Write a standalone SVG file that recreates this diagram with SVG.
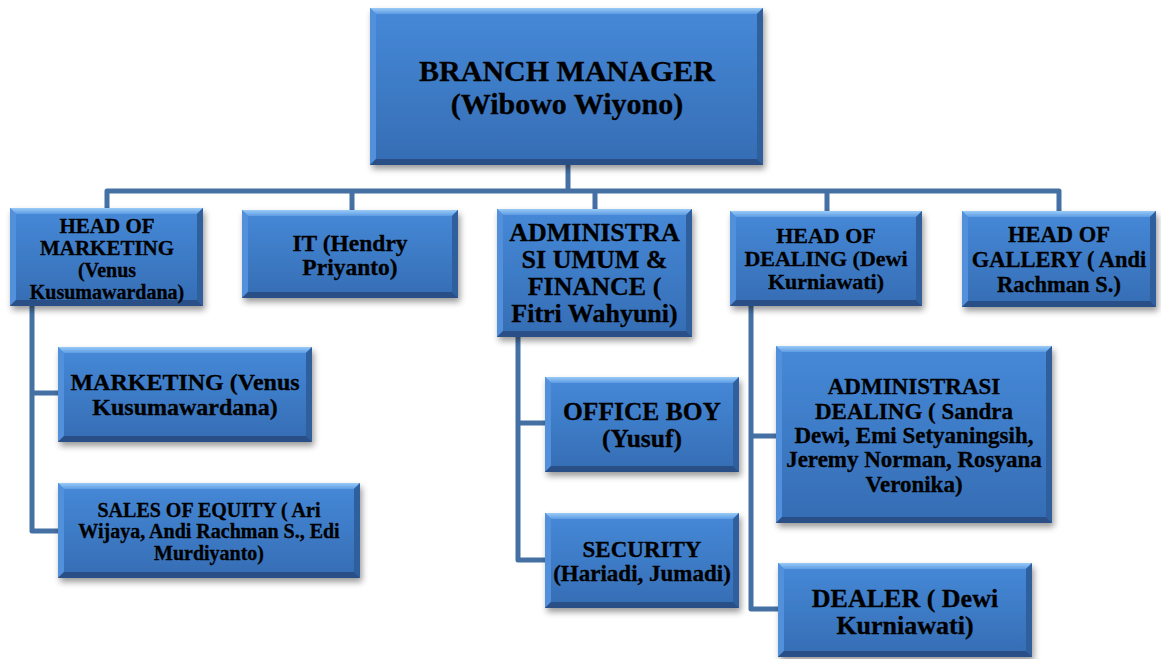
<svg xmlns="http://www.w3.org/2000/svg" width="1161" height="659" viewBox="0 0 1161 659">
<defs>
<linearGradient id="g" x1="0" y1="0" x2="0" y2="1">
<stop offset="0" stop-color="#4689d8"/>
<stop offset="1" stop-color="#356db4"/>
</linearGradient>
<linearGradient id="gt" x1="0" y1="0" x2="0" y2="1">
<stop offset="0" stop-color="#9acbf7"/>
<stop offset="1" stop-color="#5d9be3"/>
</linearGradient>
<filter id="sh" x="-10%" y="-10%" width="130%" height="140%">
<feDropShadow dx="2" dy="4" stdDeviation="3" flood-color="#000" flood-opacity="0.4"/>
</filter>
</defs>
<style>
.box{fill:url(#g);filter:url(#sh)}
.bt{fill:url(#gt)}
.bl{fill:#5290dc}
.br{fill:#2f5f9c}
.bb{fill:#294f86}
.t{font-family:"Liberation Serif","Times New Roman",serif;font-weight:bold;fill:#000;text-anchor:middle;stroke:#000;stroke-width:0.3}
.c{fill:none;stroke:#4470a4;stroke-width:5;stroke-linejoin:round;stroke-linecap:butt}
</style>
<rect width="1161" height="659" fill="#fff"/>
<g id="connectors">
<path class="c" d="M568 165V191"/>
<path class="c" d="M107 209V191H1059V211"/>
<path class="c" d="M352 191V210M595 191V209M827 191V211"/>
<path class="c" d="M32 306V531H58M32 393H58"/>
<path class="c" d="M518 337V560H545M518 423H545"/>
<path class="c" d="M751 306V609H778M751 436H776"/>
</g>
<g id="branch-manager">
<rect class="box" x="370" y="8" width="393" height="157"/>
<polygon class="bt" points="370,8 763,8 757,14 376,14"/>
<polygon class="bl" points="370,8 376,14 376,159 370,165"/>
<polygon class="br" points="763,8 757,14 757,159 763,165"/>
<polygon class="bb" points="370,165 763,165 757,159 376,159"/>
<text class="t" font-size="30" x="567" y="81">BRANCH MANAGER</text>
<text class="t" font-size="30" x="567" y="114">(Wibowo Wiyono)</text>
</g>
<g id="head-marketing">
<rect class="box" x="10" y="208" width="193" height="98"/>
<polygon class="bt" points="10,208 203,208 197,214 16,214"/>
<polygon class="bl" points="10,208 16,214 16,300 10,306"/>
<polygon class="br" points="203,208 197,214 197,300 203,306"/>
<polygon class="bb" points="10,306 203,306 197,300 16,300"/>
<text class="t" font-size="21" x="107" y="233">HEAD OF</text>
<text class="t" font-size="21" x="107" y="255">MARKETING</text>
<text class="t" font-size="20" x="107" y="277">(Venus</text>
<text class="t" font-size="20" x="107" y="299">Kusumawardana)</text>
</g>
<g id="it">
<rect class="box" x="242" y="210" width="216" height="88"/>
<polygon class="bt" points="242,210 458,210 452,216 248,216"/>
<polygon class="bl" points="242,210 248,216 248,292 242,298"/>
<polygon class="br" points="458,210 452,216 452,292 458,298"/>
<polygon class="bb" points="242,298 458,298 452,292 248,292"/>
<text class="t" font-size="23.5" x="350" y="251">IT (Hendry</text>
<text class="t" font-size="23.5" x="350" y="275">Priyanto)</text>
</g>
<g id="admin-finance">
<rect class="box" x="497" y="209" width="195" height="128"/>
<polygon class="bt" points="497,209 692,209 686,215 503,215"/>
<polygon class="bl" points="497,209 503,215 503,331 497,337"/>
<polygon class="br" points="692,209 686,215 686,331 692,337"/>
<polygon class="bb" points="497,337 692,337 686,331 503,331"/>
<text class="t" font-size="26" x="594.5" y="241">ADMINISTRA</text>
<text class="t" font-size="26" x="594.5" y="268">SI UMUM &amp;</text>
<text class="t" font-size="26" x="594.5" y="295">FINANCE (</text>
<text class="t" font-size="26" x="594.5" y="322">Fitri Wahyuni)</text>
</g>
<g id="head-dealing">
<rect class="box" x="730" y="211" width="192" height="95"/>
<polygon class="bt" points="730,211 922,211 916,217 736,217"/>
<polygon class="bl" points="730,211 736,217 736,300 730,306"/>
<polygon class="br" points="922,211 916,217 916,300 922,306"/>
<polygon class="bb" points="730,306 922,306 916,300 736,300"/>
<text class="t" font-size="22" x="826" y="243">HEAD OF</text>
<text class="t" font-size="22" x="826" y="266">DEALING (Dewi</text>
<text class="t" font-size="22" x="826" y="289">Kurniawati)</text>
</g>
<g id="head-gallery">
<rect class="box" x="962" y="211" width="194" height="96"/>
<polygon class="bt" points="962,211 1156,211 1150,217 968,217"/>
<polygon class="bl" points="962,211 968,217 968,301 962,307"/>
<polygon class="br" points="1156,211 1150,217 1150,301 1156,307"/>
<polygon class="bb" points="962,307 1156,307 1150,301 968,301"/>
<text class="t" font-size="22.5" x="1059" y="242">HEAD OF</text>
<text class="t" font-size="22.5" x="1059" y="267">GALLERY ( Andi</text>
<text class="t" font-size="22.5" x="1059" y="292">Rachman S.)</text>
</g>
<g id="marketing">
<rect class="box" x="58" y="347" width="254" height="95"/>
<polygon class="bt" points="58,347 312,347 306,353 64,353"/>
<polygon class="bl" points="58,347 64,353 64,436 58,442"/>
<polygon class="br" points="312,347 306,353 306,436 312,442"/>
<polygon class="bb" points="58,442 312,442 306,436 64,436"/>
<text class="t" font-size="24" x="185" y="390">MARKETING (Venus</text>
<text class="t" font-size="24" x="185" y="415">Kusumawardana)</text>
</g>
<g id="sales-equity">
<rect class="box" x="58" y="483" width="302" height="95"/>
<polygon class="bt" points="58,483 360,483 354,489 64,489"/>
<polygon class="bl" points="58,483 64,489 64,572 58,578"/>
<polygon class="br" points="360,483 354,489 354,572 360,578"/>
<polygon class="bb" points="58,578 360,578 354,572 64,572"/>
<text class="t" font-size="20" x="209" y="517">SALES OF EQUITY ( Ari</text>
<text class="t" font-size="20" x="209" y="538">Wijaya, Andi Rachman S., Edi</text>
<text class="t" font-size="20" x="209" y="560">Murdiyanto)</text>
</g>
<g id="office-boy">
<rect class="box" x="545" y="377" width="194" height="95"/>
<polygon class="bt" points="545,377 739,377 733,383 551,383"/>
<polygon class="bl" points="545,377 551,383 551,466 545,472"/>
<polygon class="br" points="739,377 733,383 733,466 739,472"/>
<polygon class="bb" points="545,472 739,472 733,466 551,466"/>
<text class="t" font-size="25.5" x="642" y="420">OFFICE BOY</text>
<text class="t" font-size="25.5" x="642" y="447">(Yusuf)</text>
</g>
<g id="security">
<rect class="box" x="545" y="513" width="194" height="95"/>
<polygon class="bt" points="545,513 739,513 733,519 551,519"/>
<polygon class="bl" points="545,513 551,519 551,602 545,608"/>
<polygon class="br" points="739,513 733,519 733,602 739,608"/>
<polygon class="bb" points="545,608 739,608 733,602 551,602"/>
<text class="t" font-size="23" x="642" y="557">SECURITY</text>
<text class="t" font-size="23" x="642" y="581">(Hariadi, Jumadi)</text>
</g>
<g id="admin-dealing">
<rect class="box" x="776" y="346" width="276" height="177"/>
<polygon class="bt" points="776,346 1052,346 1046,352 782,352"/>
<polygon class="bl" points="776,346 782,352 782,517 776,523"/>
<polygon class="br" points="1052,346 1046,352 1046,517 1052,523"/>
<polygon class="bb" points="776,523 1052,523 1046,517 782,517"/>
<text class="t" font-size="23" x="914" y="394">ADMINISTRASI</text>
<text class="t" font-size="23" x="914" y="419">DEALING ( Sandra</text>
<text class="t" font-size="23" x="914" y="443">Dewi, Emi Setyaningsih,</text>
<text class="t" font-size="23" x="914" y="467">Jeremy Norman, Rosyana</text>
<text class="t" font-size="23" x="914" y="492">Veronika)</text>
</g>
<g id="dealer">
<rect class="box" x="778" y="563" width="254" height="94"/>
<polygon class="bt" points="778,563 1032,563 1026,569 784,569"/>
<polygon class="bl" points="778,563 784,569 784,651 778,657"/>
<polygon class="br" points="1032,563 1026,569 1026,651 1032,657"/>
<polygon class="bb" points="778,657 1032,657 1026,651 784,651"/>
<text class="t" font-size="26" x="905" y="607">DEALER ( Dewi</text>
<text class="t" font-size="26" x="905" y="634">Kurniawati)</text>
</g>
</svg>
